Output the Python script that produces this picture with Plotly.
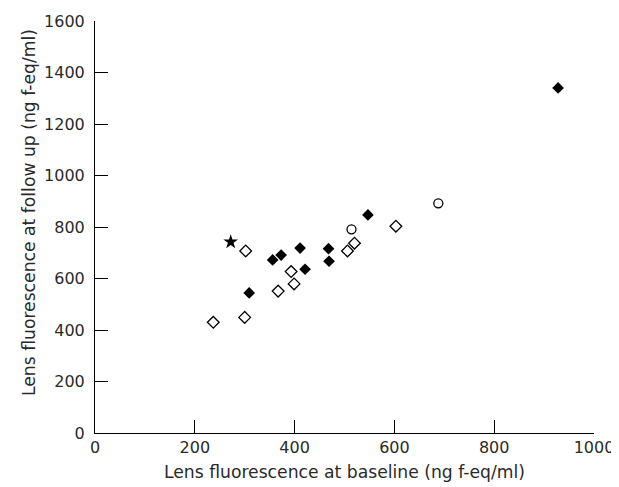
import plotly.graph_objects as go

# Filled diamonds
filled_x = [309, 356, 373, 411, 421, 468, 469, 547, 928]
filled_y = [544, 672, 691, 718, 636, 716, 667, 847, 1340]
# Open diamonds
open_x = [237, 300, 302, 367, 393, 399, 506, 520, 603]
open_y = [430, 449, 707, 551, 627, 579, 707, 737, 803]
# Open circles
circle_x = [514, 688]
circle_y = [791, 892]
# Star
star_x = [272]
star_y = [742]

x_ticks = [0, 200, 400, 600, 800, 1000]
y_ticks = [0, 200, 400, 600, 800, 1000, 1200, 1400, 1600]

FONT = "DejaVu Sans"
TXT = "#2a2a2a"

fig = go.Figure()
fig.add_trace(go.Scatter(x=open_x, y=open_y, mode="markers",
                         marker=dict(symbol="diamond-open", size=9, color="black",
                                     line=dict(width=1.3, color="black"))))
fig.add_trace(go.Scatter(x=circle_x, y=circle_y, mode="markers",
                         marker=dict(symbol="circle-open", size=9, color="black",
                                     line=dict(width=1.3, color="black"))))
fig.add_trace(go.Scatter(x=filled_x, y=filled_y, mode="markers",
                         marker=dict(symbol="diamond", size=9, color="black")))
fig.add_trace(go.Scatter(x=star_x, y=star_y, mode="markers",
                         marker=dict(symbol="star", size=11, color="black")))

axis_common = dict(showline=True, linecolor="black", linewidth=1,
                   ticks="inside", ticklen=13, tickcolor="black", tickwidth=1,
                   showgrid=False, zeroline=False, automargin=False,
                   tickfont=dict(family=FONT, size=16, color=TXT))

fig.update_xaxes(range=[0, 1000], tickvals=x_ticks, ticktext=[str(v) for v in x_ticks],
                 ticklabelstandoff=0, **axis_common)
fig.update_yaxes(range=[0, 1600], tickvals=y_ticks, ticktext=[str(v) for v in y_ticks],
                 ticklabelstandoff=6, **axis_common)

fig.add_annotation(text="Lens fluorescence at baseline (ng f-eq/ml)",
                   xref="paper", yref="paper", x=0.5, y=0,
                   xanchor="center", yanchor="middle", yshift=-39, showarrow=False,
                   font=dict(family=FONT, size=17.2, color=TXT))
fig.add_annotation(text="Lens fluorescence at follow up (ng f-eq/ml)",
                   xref="paper", yref="paper", x=0, y=0.534, textangle=-90,
                   xanchor="center", yanchor="middle", xshift=-66, showarrow=False,
                   font=dict(family=FONT, size=17.2, color=TXT))

# page body adds ~8px offset; size figure so plot area lands where the reference has it
fig.update_layout(width=611, height=479, showlegend=False,
                  plot_bgcolor="white", paper_bgcolor="white",
                  margin=dict(l=87, r=25, t=13, b=54))

fig.write_html("out.html")
